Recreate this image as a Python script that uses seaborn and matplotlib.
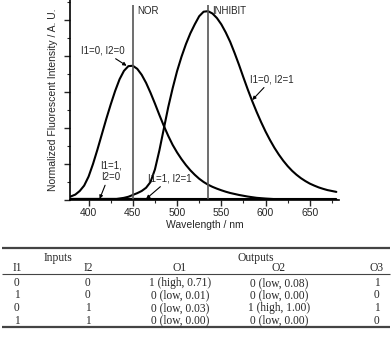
import matplotlib
matplotlib.use("Agg")
import matplotlib.pyplot as plt
import pandas as pd
import seaborn as sns
from matplotlib.ticker import MultipleLocator

# Emission spectra (wavelength in nm, normalized intensity)
wl_00 = [380, 385, 390, 395, 400, 405, 410, 415, 420, 425, 430, 435, 440,
         445, 450, 455, 460, 465, 470, 475, 480, 485, 490, 495, 500, 505,
         510, 515, 520, 525, 530, 535, 540, 545, 550, 555, 560, 570, 580,
         590, 600, 610, 620, 640, 680]
int_00 = [0.02, 0.03, 0.05, 0.08, 0.13, 0.20, 0.28, 0.365, 0.45, 0.53, 0.605,
          0.67, 0.717, 0.743, 0.745, 0.728, 0.695, 0.65, 0.595, 0.535, 0.472,
          0.412, 0.356, 0.306, 0.264, 0.227, 0.194, 0.165, 0.14, 0.118, 0.1,
          0.085, 0.073, 0.063, 0.054, 0.046, 0.039, 0.028, 0.019, 0.012,
          0.008, 0.005, 0.003, 0.001, 0.0]

wl_01 = [420, 430, 440, 445, 450, 455, 460, 465, 470, 475, 480, 485, 490,
         495, 500, 505, 510, 515, 520, 525, 530, 535, 540, 545, 550, 555,
         560, 565, 570, 575, 580, 585, 590, 595, 600, 605, 610, 615, 620,
         625, 630, 635, 640, 645, 650, 655, 660, 665, 670, 675, 680]
int_01 = [0.0, 0.004, 0.012, 0.018, 0.028, 0.038, 0.05, 0.068, 0.1, 0.17,
          0.275, 0.395, 0.515, 0.62, 0.715, 0.795, 0.865, 0.925, 0.975, 1.02,
          1.045, 1.048, 1.035, 1.01, 0.975, 0.93, 0.878, 0.816, 0.75, 0.68,
          0.612, 0.548, 0.488, 0.432, 0.38, 0.333, 0.29, 0.252, 0.218, 0.188,
          0.162, 0.14, 0.121, 0.105, 0.091, 0.08, 0.07, 0.062, 0.055, 0.05,
          0.045]

wl_low = [380, 450, 535, 680]
int_10 = [0.006, 0.006, 0.004, 0.003]
int_11 = [0.003, 0.003, 0.003, 0.003]

gate_names = ["NOR", "INHIBIT"]
gate_wl = [450, 535]

# Truth table
col_heads = ["I1", "I2", "O1", "O2", "O3"]
col_i1 = ["0", "1", "0", "1"]
col_i2 = ["0", "0", "1", "1"]
col_o1 = ["1 (high, 0.71)", "0 (low, 0.01)", "0 (low, 0.03)", "0 (low, 0.00)"]
col_o2 = ["0 (low, 0.08)", "0 (low, 0.00)", "1 (high, 1.00)", "0 (low, 0.00)"]
col_o3 = ["1", "0", "1", "0"]

sns.set_theme(style="ticks")
plt.rcParams["font.family"] = ["Liberation Sans", "DejaVu Sans"]

fig = plt.figure(figsize=(3.92, 3.48), dpi=100)
ax = fig.add_axes([70 / 392, 148 / 348, 269 / 392, 200 / 348])

spectra = pd.concat([
    pd.DataFrame({"wl": wl_00, "I": int_00, "state": "00"}),
    pd.DataFrame({"wl": wl_01, "I": int_01, "state": "01"}),
    pd.DataFrame({"wl": wl_low, "I": int_10, "state": "10"}),
    pd.DataFrame({"wl": wl_low, "I": int_11, "state": "11"}),
])
for st, sub in spectra.groupby("state"):
    sns.lineplot(data=sub, x="wl", y="I", color="black", lw=1.5, ax=ax,
                 sort=False, estimator=None)

ax.vlines(gate_wl, 0, 1.083, color="#555555", lw=1.2)
for name, w in zip(gate_names, gate_wl):
    ax.text(w + 5, 1.05, name, fontsize=7, va="center", ha="left")

ax.set_xlim(379, 683)
ax.set_ylim(0, 1.11)
ax.xaxis.set_major_locator(MultipleLocator(50))
ax.xaxis.set_minor_locator(MultipleLocator(25))
ax.yaxis.set_major_locator(MultipleLocator(0.2))
ax.yaxis.set_minor_locator(MultipleLocator(0.1))
ax.set_yticklabels([])
ax.tick_params(axis="both", which="major", length=4, width=1, direction="out",
               labelsize=7.5, pad=2)
ax.tick_params(axis="both", which="minor", length=2.5, width=0.8, direction="out")
for s in ["top", "right"]:
    ax.spines[s].set_visible(False)
for s in ["left", "bottom"]:
    ax.spines[s].set_linewidth(1.2)
    ax.spines[s].set_color("black")
ax.set_xlabel("Wavelength / nm", fontsize=7.5, labelpad=1)
ax.set_ylabel("Normalized Fluorescent Intensity / A. U.", fontsize=7.5, labelpad=3)

arrow = dict(arrowstyle="-|>", lw=0.8, color="black", mutation_scale=5,
             shrinkA=0, shrinkB=0)
ax.annotate("I1=0, I2=0", xy=(443, 0.745), xytext=(416, 0.83), fontsize=7,
            ha="center", va="center", arrowprops=arrow)
ax.annotate("I1=0, I2=1", xy=(585, 0.555), xytext=(607, 0.67), fontsize=7,
            ha="center", va="center", arrowprops=arrow)
ax.annotate("I1=1,\nI2=0", xy=(412.5, 0.006), xytext=(425, 0.16), fontsize=7,
            ha="center", va="center", linespacing=1.2, arrowprops=arrow)
ax.annotate("I1=1, I2=1", xy=(465, 0.006), xytext=(492, 0.12), fontsize=7,
            ha="center", va="center", arrowprops=arrow)

# Table drawn in figure pixel coordinates
tab = fig.add_axes([0, 0, 1, 1])
tab.set_xlim(0, 392)
tab.set_ylim(348, 0)
tab.axis("off")
serif = ["Liberation Serif", "DejaVu Serif"]
tsize = 8.3
tab.hlines([248, 327], 2, 390, color="#444444", lw=1.6)
tab.hlines([274], 2, 390, color="#444444", lw=0.8)
col_x = [17, 88, 180, 279, 377]
tab.text(58, 258, "Inputs", family=serif, fontsize=tsize, ha="center", va="center")
tab.text(256, 258, "Outputs", family=serif, fontsize=tsize, ha="center", va="center")
for cx, h in zip(col_x, col_heads):
    tab.text(cx, 268, h, family=serif, fontsize=tsize, ha="center", va="center")
row_y = [283, 295.5, 308, 320.5]
for cx, col in zip(col_x, [col_i1, col_i2, col_o1, col_o2, col_o3]):
    for ry, val in zip(row_y, col):
        tab.text(cx, ry, val, family=serif, fontsize=tsize, ha="center", va="center")

fig.savefig("out.png", dpi=100)
